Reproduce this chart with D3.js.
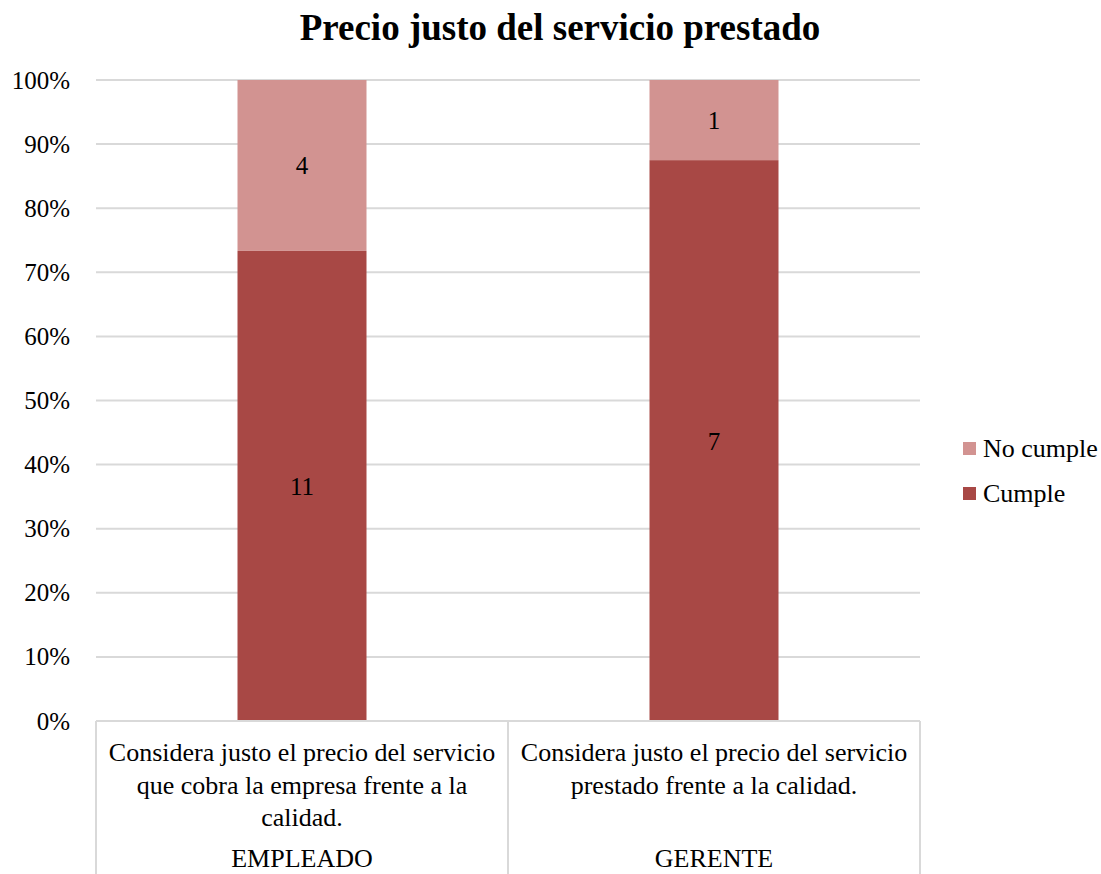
<!DOCTYPE html>
<html lang="es">
<head>
<meta charset="UTF-8">
<title>Precio justo del servicio prestado</title>
<style>
  body { margin: 0; background: #fff; }
  text { font-family: "Liberation Serif", "Times New Roman", serif; fill: #000; }
</style>
</head>
<body>
<script src="https://cdn.jsdelivr.net/npm/d3@7"></script>
<script>
// data
let groups = ['EMPLEADO', 'GERENTE'];
let questions = [
    ['Considera justo el precio del servicio', 'que cobra la empresa frente a la', 'calidad.'],
    ['Considera justo el precio del servicio', 'prestado frente a la calidad.']
];
let cumple = [11, 7];
let noCumple = [4, 1];
let seriesNames = ['Cumple', 'No cumple'];
let colors = ['#A84845', '#D29391'];
let yTicks = [0, 0.1, 0.2, 0.3, 0.4, 0.5, 0.6, 0.7, 0.8, 0.9, 1];

let width = 1101, height = 874;
let plotLeft = 96, plotRight = 920, plotTop = 80, plotBottom = 721;

let svg = d3.select('body').append('svg')
    .attr('width', width)
    .attr('height', height);

let xScale = d3.scaleBand().domain(groups).range([plotLeft, plotRight]).paddingInner(0).paddingOuter(0);
let yScale = d3.scaleLinear().domain([0, 1]).range([plotBottom, plotTop]);
let barW = 129;

// title
svg.append('text')
    .attr('x', 560).attr('y', 40)
    .attr('text-anchor', 'middle')
    .style('font-size', '37px').style('font-weight', 'bold')
    .text('Precio justo del servicio prestado');

// gridlines
svg.append('g').selectAll('line')
    .data(yTicks.slice(1))
    .enter().append('line')
    .attr('x1', plotLeft).attr('x2', plotRight)
    .attr('y1', d => yScale(d)).attr('y2', d => yScale(d))
    .attr('stroke', '#d9d9d9').attr('stroke-width', 2);

// y axis labels
let yAxis = d3.axisLeft(yScale).tickValues(yTicks).tickFormat(d3.format('.0%')).tickSize(0).tickPadding(26);
let yg = svg.append('g').attr('transform', 'translate(' + plotLeft + ',0)').call(yAxis);
yg.select('.domain').remove();
yg.selectAll('text').style('font-size', '25px').style('font-family', '"Liberation Serif", serif').attr('fill', '#000');

// stacked data
let stackData = groups.map((g, i) => {
    let total = cumple[i] + noCumple[i];
    return [
        { g: g, s: 0, v: cumple[i], y0: 0, y1: cumple[i] / total },
        { g: g, s: 1, v: noCumple[i], y0: cumple[i] / total, y1: 1 }
    ];
}).flat();

let bars = svg.append('g');
bars.selectAll('rect')
    .data(stackData)
    .enter().append('rect')
    .attr('x', d => xScale(d.g) + xScale.bandwidth() / 2 - barW / 2)
    .attr('width', barW)
    .attr('y', d => yScale(d.y1))
    .attr('height', d => yScale(d.y0) - yScale(d.y1))
    .attr('fill', d => colors[d.s]);

bars.selectAll('text')
    .data(stackData)
    .enter().append('text')
    .attr('x', d => xScale(d.g) + xScale.bandwidth() / 2)
    .attr('y', d => (yScale(d.y0) + yScale(d.y1)) / 2 + 9)
    .attr('text-anchor', 'middle')
    .style('font-size', '25px')
    .text(d => d.v);

// x axis: baseline and separators
svg.append('line')
    .attr('x1', plotLeft).attr('x2', plotRight)
    .attr('y1', plotBottom).attr('y2', plotBottom)
    .attr('stroke', '#d9d9d9').attr('stroke-width', 2);

let seps = [plotLeft].concat(groups.map(g => xScale(g) + xScale.bandwidth()));
svg.append('g').selectAll('line')
    .data(seps)
    .enter().append('line')
    .attr('x1', d => d).attr('x2', d => d)
    .attr('y1', plotBottom).attr('y2', height)
    .attr('stroke', '#d9d9d9').attr('stroke-width', 2);

// category labels
let cat = svg.append('g');
groups.forEach((g, i) => {
    let cx = xScale(g) + xScale.bandwidth() / 2;
    let t = cat.append('text')
        .attr('x', cx).attr('y', 761)
        .attr('text-anchor', 'middle')
        .style('font-size', '26px');
    questions[i].forEach((line, j) => {
        t.append('tspan').attr('x', cx).attr('y', 761 + j * 32.5).text(line);
    });
    cat.append('text')
        .attr('x', cx).attr('y', 867)
        .attr('text-anchor', 'middle')
        .style('font-size', '26px')
        .text(g);
});

// legend
let legendItems = [{ name: seriesNames[1], c: colors[1] }, { name: seriesNames[0], c: colors[0] }];
let legend = svg.append('g').selectAll('g')
    .data(legendItems)
    .enter().append('g')
    .attr('transform', (d, i) => 'translate(963,' + (442 + i * 45) + ')');
legend.append('rect').attr('width', 13).attr('height', 13).attr('fill', d => d.c);
legend.append('text').attr('x', 20).attr('y', 15).style('font-size', '26px').text(d => d.name);
</script>
</body>
</html>
